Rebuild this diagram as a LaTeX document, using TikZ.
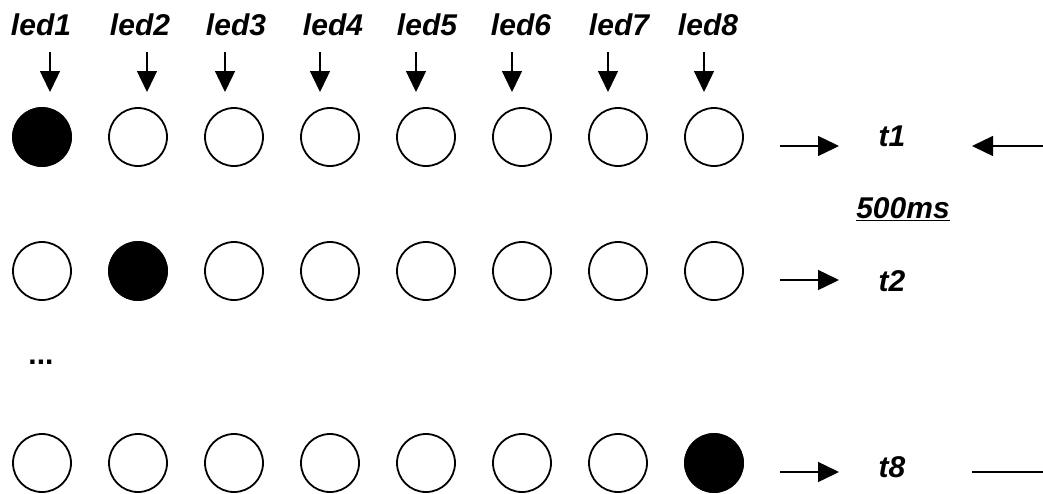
\documentclass[tikz,border=0pt]{standalone}
\usepackage{fontspec}
\setmainfont{Liberation Sans}
\usetikzlibrary{arrows.meta}
\begin{document}
\begin{tikzpicture}[x=1pt,y=-1pt,
  led/.style={circle,draw,line width=1.8pt,minimum size=58pt,inner sep=0pt},
  ledon/.style={led,fill=black},
  lbl/.style={font=\fontsize{30}{34}\selectfont\bfseries\itshape,inner sep=0pt},
  arr/.style={line width=1.4pt,-{Triangle[length=21pt,width=20pt]}},
  plain/.style={line width=1.4pt}]
\useasboundingbox (0,0) rectangle (1043,493);
% labels
\foreach \i/\x in {1/41,2/140,3/236,4/333,5/427,6/521,7/619,8/708}{
  \node[lbl] (l\i) at (\x,25) {led\i};
}
% vertical arrows
\foreach \i/\x in {1/50,2/147,3/225,4/320,5/416,6/512,7/608,8/704}{
  \coordinate (as\i) at (\x,52);
  \coordinate (ae\i) at (\x,92);
  \draw[arr] (as\i) -- (ae\i);
}
% rows
\foreach \i/\x in {1/42,2/138,3/234,4/330,5/426,6/522,7/618,8/714}{
  \node[led] (a\i) at (\x,137) {};
  \node[led] (b\i) at (\x,271) {};
  \node[led] (c\i) at (\x,463) {};
}
\node[ledon] at (a1) {};
\node[ledon] at (b2) {};
\node[ledon] at (c8) {};
% right side
\node[lbl] (t1) at (892,136) {t1};
\node[lbl] (t2) at (892,281) {t2};
\node[lbl] (t8) at (892,467) {t8};
\node[lbl] (ms) at (903,209) {\underline{500ms}};
\node[font=\fontsize{30}{34}\selectfont\bfseries,inner sep=0pt] (dots) at (41,362) {...};
\coordinate (r1s) at (780,146); \coordinate (r1e) at (839,146);
\coordinate (r2s) at (780,280); \coordinate (r2e) at (839,280);
\coordinate (r3s) at (780,472); \coordinate (r3e) at (839,472);
\draw[arr] (r1s) -- (r1e);
\draw[arr] (r2s) -- (r2e);
\draw[arr] (r3s) -- (r3e);
\coordinate (q1s) at (1043,146); \coordinate (q1e) at (972,146);
\draw[arr] (q1s) -- (q1e);
\coordinate (q3s) at (972,472); \coordinate (q3e) at (1043,472);
\draw[plain] (q3s) -- (q3e);
\end{tikzpicture}
\end{document}
